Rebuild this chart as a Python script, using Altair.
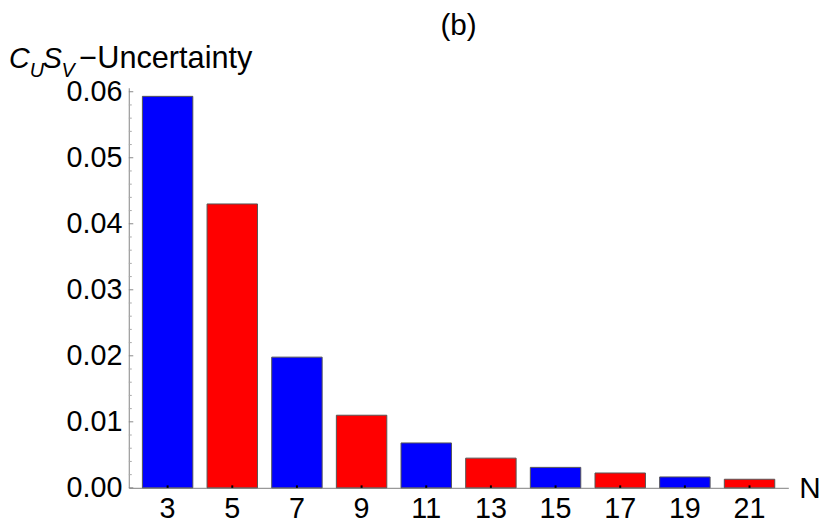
import altair as alt
import pandas as pd

# ---- data ----
n_values = [3, 5, 7, 9, 11, 13, 15, 17, 19, 21]
uncertainty = [0.0593, 0.0430, 0.0198, 0.0110, 0.0068, 0.0045, 0.0031, 0.00225, 0.00165, 0.0013]
series = ["blue" if i % 2 == 0 else "red" for i in range(len(n_values))]

major_ticks = [0.0, 0.01, 0.02, 0.03, 0.04, 0.05, 0.06]
minor_ticks = [round(0.002 * k, 3) for k in range(0, 31) if k % 5 != 0]

W, H = 666, 404
FONT = "Liberation Sans"

df = pd.DataFrame({"N": n_values, "U": uncertainty, "s": series})

yscale = alt.Scale(domain=[0, 0.0606], nice=False, zero=True)
xscale = alt.Scale(paddingInner=0.22, paddingOuter=0.21)
yaxis = alt.Axis(title=None, values=major_ticks, format=".2f", labelFont=FONT,
                 labelFontSize=29, labelColor="black", labelPadding=7,
                 ticks=False, grid=False, domainColor="#999999", domainWidth=1.2)

bars = alt.Chart(df).mark_bar(stroke="#555555", strokeWidth=1).encode(
    x=alt.X("N:O", scale=xscale, sort=n_values,
            axis=alt.Axis(title=None, labelAngle=0, labelFont=FONT, labelFontSize=29,
                          labelColor="black", labelPadding=7, ticks=False,
                          domainColor="#999999", domainWidth=1.2)),
    y=alt.Y("U:Q", scale=yscale, axis=yaxis),
    color=alt.Color("s:N", scale=alt.Scale(domain=["blue", "red"], range=["#0000ff", "#ff0000"]),
                    legend=None),
)

xticks = alt.Chart(df).mark_rule(color="black", strokeWidth=2).encode(
    x=alt.X("N:O", sort=n_values),
    y=alt.value(H - 2.5),
    y2=alt.value(H),
)

df_major = pd.DataFrame({"v": major_ticks})
df_minor = pd.DataFrame({"v": minor_ticks})

major_rules = alt.Chart(df_major).mark_rule(color="#888888", strokeWidth=1).encode(
    y=alt.Y("v:Q", scale=yscale, axis=yaxis),
    x=alt.value(0),
    x2=alt.value(4.5),
)
minor_rules = alt.Chart(df_minor).mark_rule(color="#aaaaaa", strokeWidth=1).encode(
    y=alt.Y("v:Q", scale=yscale, axis=yaxis),
    x=alt.value(0),
    x2=alt.value(3),
)

def label(txt, x, y, size, italic=False, align="left"):
    return alt.Chart(pd.DataFrame({"t": [txt]})).mark_text(
        font=FONT, fontSize=size, fontStyle="italic" if italic else "normal",
        align=align, baseline="alphabetic", color="black",
    ).encode(x=alt.value(x), y=alt.value(y), text="t:N")

texts = [
    label("C", -121, -20, 29, italic=True),
    label("U", -100, -11, 20, italic=True),
    label("S", -87, -20, 29, italic=True),
    label("V", -68, -11, 20, italic=True),
    label("\u2212Uncertainty", -50, -20, 31),
    label("(b)", W / 2, -53, 30, align="center"),
    label("N", 677, 414, 30),
]

chart = alt.layer(minor_rules, major_rules, bars, xticks, *texts).properties(
    width=W, height=H,
    padding={"left": 122, "top": 78, "right": 34, "bottom": 39},
    autosize=alt.AutoSizeParams(type="none"),
).configure_view(stroke=None)

chart.save("out.html", embed_options={"renderer": "svg", "actions": False})
